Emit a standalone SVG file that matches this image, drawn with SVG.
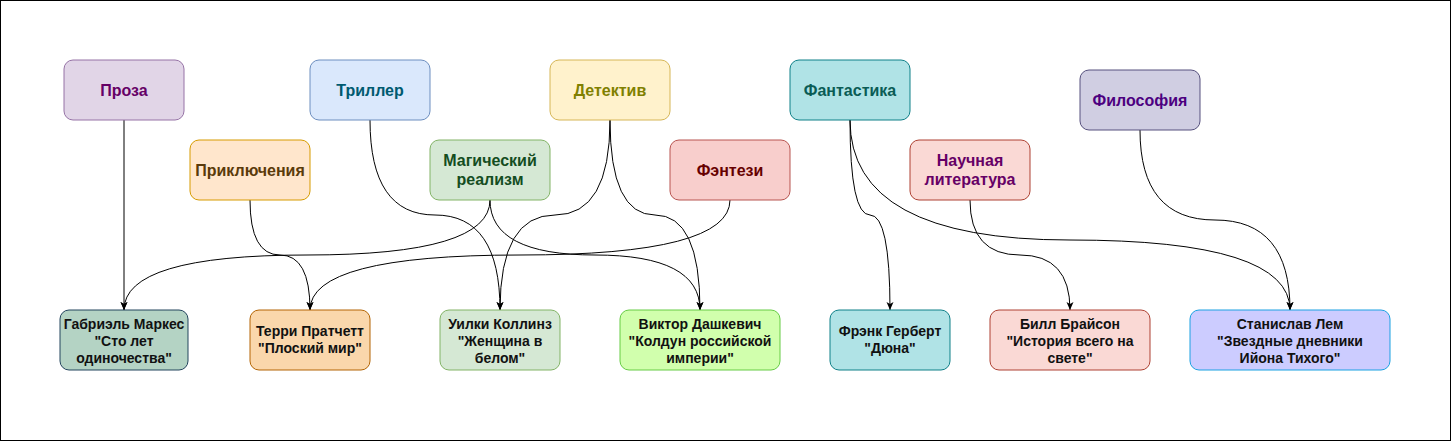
<svg xmlns="http://www.w3.org/2000/svg" width="1451" height="441" viewBox="0 0 1451 441">
<defs>
<marker id="arr" markerUnits="userSpaceOnUse" markerWidth="8" markerHeight="8" viewBox="0 0 8 8" refX="8" refY="4" orient="auto">
<path d="M0,0.5 L8,4 L0,7.5 L2,4 Z" fill="#000"/>
</marker>
<style>
.n rect{stroke-width:1}
.t{font-family:"Liberation Sans",Arial,sans-serif;font-weight:bold;font-size:16px;text-anchor:middle}
.b{font-family:"Liberation Sans",Arial,sans-serif;font-weight:bold;font-size:14px;text-anchor:middle;fill:#111}
.e path{fill:none;stroke:#000;stroke-width:1;marker-end:url(#arr)}
</style>
</defs>
<rect x="0.5" y="0.5" width="1450" height="440" fill="#fff" stroke="#000"/>
<g id="edges" class="e">
<path d="M124,120 L124,310"/>
<path d="M250,200 Q250,255 280,255 Q310,255 310,310"/>
<path d="M370,120 Q370,215 435,215 Q500,215 500,310"/>
<path d="M490,200 Q490,255 307,255 Q124,255 124,310"/>
<path d="M490,200 Q490,255 595,255 Q700,255 700,310"/>
<path d="M610,120 Q610,215 555,215 Q500,215 500,310"/>
<path d="M610,120 Q610,215 655,215 Q700,215 700,310"/>
<path d="M730,200 Q730,255 520,255 Q310,255 310,310"/>
<path d="M850,120 Q850,215 870,215 Q890,215 890,310"/>
<path d="M850,120 Q850,240 1070,240 Q1290,240 1290,310"/>
<path d="M970,200 Q970,255 1020,255 Q1070,255 1070,310"/>
<path d="M1140,130 Q1140,220 1215,220 Q1290,220 1290,310"/>
</g>
<g id="proza" class="n"><rect x="64" y="60" width="120" height="60" rx="9" fill="#e1d5e7" stroke="#9673a6"/><text class="t" x="124" y="96" fill="#660066">Проза</text></g>
<g id="triller" class="n"><rect x="310" y="60" width="120" height="60" rx="9" fill="#dae8fc" stroke="#6c8ebf"/><text class="t" x="370" y="96" fill="#005a70">Триллер</text></g>
<g id="detektiv" class="n"><rect x="550" y="60" width="120" height="60" rx="9" fill="#fff2cc" stroke="#d6b656"/><text class="t" x="610" y="96" fill="#808000">Детектив</text></g>
<g id="fantastika" class="n"><rect x="790" y="60" width="120" height="60" rx="9" fill="#b0e3e6" stroke="#0e8088"/><text class="t" x="850" y="96" fill="#0a5c55">Фантастика</text></g>
<g id="filosofiya" class="n"><rect x="1080" y="70" width="120" height="60" rx="9" fill="#d0cee2" stroke="#56517e"/><text class="t" x="1140" y="106" fill="#4c0080">Философия</text></g>
<g id="priklyucheniya" class="n"><rect x="190" y="140" width="120" height="60" rx="9" fill="#ffe6cc" stroke="#d79b00"/><text class="t" x="250" y="176" fill="#5a3a0a">Приключения</text></g>
<g id="magicheskiy" class="n"><rect x="430" y="140" width="120" height="60" rx="9" fill="#d5e8d4" stroke="#82b366"/><text class="t" x="490" y="166" fill="#144d1f">Магический</text><text class="t" x="490" y="185" fill="#144d1f">реализм</text></g>
<g id="fentezi" class="n"><rect x="670" y="140" width="120" height="60" rx="9" fill="#f8cecc" stroke="#b85450"/><text class="t" x="730" y="176" fill="#660000">Фэнтези</text></g>
<g id="nauchnaya" class="n"><rect x="910" y="140" width="120" height="60" rx="9" fill="#fad9d5" stroke="#ae4132"/><text class="t" x="970" y="166" fill="#660066">Научная</text><text class="t" x="970" y="185" fill="#660066">литература</text></g>
<g id="markes" class="n"><rect x="60" y="310" width="128" height="60" rx="9" fill="#b4d3c4" stroke="#23445d"/><text class="b" x="124" y="329">Габриэль Маркес</text><text class="b" x="124" y="346">"Сто лет</text><text class="b" x="124" y="363">одиночества"</text></g>
<g id="pratchett" class="n"><rect x="250" y="310" width="120" height="60" rx="9" fill="#fad7ac" stroke="#b46504"/><text class="b" x="310" y="336">Терри Пратчетт</text><text class="b" x="310" y="353">"Плоский мир"</text></g>
<g id="kollinz" class="n"><rect x="440" y="310" width="120" height="60" rx="9" fill="#d5e8d4" stroke="#82b366"/><text class="b" x="500" y="329">Уилки Коллинз</text><text class="b" x="500" y="346">"Женщина в</text><text class="b" x="500" y="363">белом"</text></g>
<g id="dashkevich" class="n"><rect x="620" y="310" width="160" height="60" rx="9" fill="#d1ffad" stroke="#66cc44"/><text class="b" x="700" y="329">Виктор Дашкевич</text><text class="b" x="700" y="346">"Колдун российской</text><text class="b" x="700" y="363">империи"</text></g>
<g id="gerbert" class="n"><rect x="830" y="310" width="120" height="60" rx="9" fill="#b0e3e6" stroke="#0e8088"/><text class="b" x="890" y="336">Фрэнк Герберт</text><text class="b" x="890" y="353">"Дюна"</text></g>
<g id="brayson" class="n"><rect x="990" y="310" width="160" height="60" rx="9" fill="#fad9d5" stroke="#ae4132"/><text class="b" x="1070" y="329">Билл Брайсон</text><text class="b" x="1070" y="346">"История всего на</text><text class="b" x="1070" y="363">свете"</text></g>
<g id="lem" class="n"><rect x="1190" y="310" width="200" height="60" rx="9" fill="#ccccff" stroke="#1ba1e2"/><text class="b" x="1290" y="329">Станислав Лем</text><text class="b" x="1290" y="346">"Звездные дневники</text><text class="b" x="1290" y="363">Ийона Тихого"</text></g>
</svg>
